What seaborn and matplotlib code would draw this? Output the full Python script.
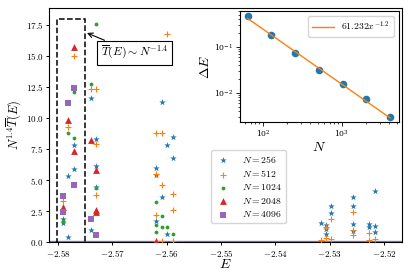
import matplotlib

matplotlib.use("Agg")
import matplotlib.pyplot as plt
import numpy as np
import pandas as pd
import seaborn as sns
from matplotlib.patches import Rectangle
from matplotlib.ticker import FuncFormatter

plt.rcParams["mathtext.fontset"] = "cm"
plt.rcParams["font.family"] = ["DejaVu Serif"]

# main panel: N^1.4 * T(E) at the peaks, one pair of lists per system size
E_256 = [-2.5791, -2.5791, -2.5781, -2.5781, -2.5771, -2.5771, -2.5739, -2.5739,
         -2.5730, -2.5730, -2.5730, -2.5620, -2.5620, -2.5620, -2.5609, -2.5609,
         -2.5600, -2.5600, -2.5588, -2.5588, -2.5316, -2.5306, -2.5306, -2.5306,
         -2.5297, -2.5297, -2.5257, -2.5257, -2.5257, -2.5257, -2.5227, -2.5227,
         -2.5216, -2.5216, -2.5216]
T_256 = [1.85, 1.5, 5.3, 0.4, 7.8, 5.9, 11.6, 0.95, 8.3, 6.1, 4.4, 6.0, 5.4, 1.7,
         11.3, 3.6, 7.85, 0.65, 8.45, 6.8, 1.5, 1.35, 1.05, 0.65, 2.9, 2.35,
         3.6, 2.9, 1.45, 0.9, 1.45, 1.2, 4.15, 1.3, 0.85]

E_512 = [-2.5791, -2.5781, -2.5771, -2.5739, -2.5730, -2.5730, -2.5730, -2.5620,
         -2.5609, -2.5600, -2.5620, -2.5609, -2.5588, -2.5588, -2.5620, -2.5620,
         -2.5609, -2.5588, -2.5316, -2.5306, -2.5306, -2.5297, -2.5297, -2.5257,
         -2.5257, -2.5257, -2.5227, -2.5227, -2.5216]
T_512 = [3.3, 9.3, 15.0, 12.35, 12.35, 7.9, 3.8, 8.8, 8.8, 16.8, 5.5, 4.6, 3.85,
         2.6, 2.2, 0.1, 0.1, 0.1, 0.2, 1.2, 0.3, 1.85, 0.25, 2.4, 0.95, 0.55,
         0.7, 0.2, 0.25]

E_1024 = [-2.5791, -2.5781, -2.5771, -2.5771, -2.5739, -2.5730, -2.5730, -2.5620,
          -2.5609, -2.5620, -2.5609, -2.5600, -2.5620, -2.5588]
T_1024 = [1.7, 8.8, 12.1, 8.4, 12.7, 17.55, 4.35, 3.2, 2.1, 1.4, 1.2, 1.25, 0.85,
          0.65]

E_2048 = [-2.5791, -2.5781, -2.5771, -2.5771, -2.5739, -2.5730, -2.5730, -2.5730,
          -2.5620]
T_2048 = [2.8, 9.8, 15.7, 7.3, 8.2, 5.8, 2.6, 2.4, 0.1]

E_4096 = [-2.5791, -2.5791, -2.5781, -2.5771, -2.5771, -2.5739, -2.5730]
T_4096 = [3.7, 2.4, 11.2, 12.4, 4.6, 1.85, 0.55]

# inset: gap Delta E against N
N_gap = [64, 128, 256, 512, 1024, 2048, 4096]
dE_gap = [0.47, 0.18, 0.074, 0.032, 0.0155, 0.0073, 0.0030]
fit_a, fit_b = 61.232, -1.2

series = [
    ("256", E_256, T_256, "C0", "*", 24),
    ("512", E_512, T_512, "C1", "+", 20),
    ("1024", E_1024, T_1024, "C2", ".", 30),
    ("2048", E_2048, T_2048, "C3", "^", 24),
    ("4096", E_4096, T_4096, "C4", "s", 22),
]

fig = plt.figure(figsize=(4.15, 2.72), dpi=100)
ax = fig.add_axes([0.118, 0.110, 0.851, 0.861])

ax.axhline(0, color="C4", lw=2.4, zorder=1)
for n, e, t, col, mk, sz in series:
    df = pd.DataFrame({"E": e, "T": t})
    kw = {"linewidth": 0.8} if mk == "+" else {"linewidth": 0}
    sns.scatterplot(data=df, x="E", y="T", color=col, marker=mk, s=sz,
                    label=rf"$N = {n}$", ax=ax, zorder=3, **kw)

ax.add_patch(Rectangle((-2.5802, -1), 0.0052, 19.0, fill=False, ec="black",
                       ls="--", lw=1.1, zorder=4))
ax.annotate(r"$\overline{T}(E) \sim N^{-1.4}$", xy=(-2.57466, 16.85),
            xytext=(-2.56591, 15.25), ha="center", va="center", fontsize=8.5,
            bbox=dict(boxstyle="square,pad=0.3", fc="white", ec="black", lw=0.8),
            arrowprops=dict(arrowstyle="->", color="black", lw=0.8,
                            shrinkA=0, shrinkB=0), zorder=5)

ax.set_xlim(-2.58166, -2.51666)
ax.set_ylim(0, 18.87)
ax.set_xticks([-2.58, -2.57, -2.56, -2.55, -2.54, -2.53, -2.52])
ax.set_yticks([0, 2.5, 5, 7.5, 10, 12.5, 15, 17.5])
ax.xaxis.set_major_formatter(FuncFormatter(lambda v, p: rf"${v:.2f}$"))
ax.yaxis.set_major_formatter(FuncFormatter(lambda v, p: rf"${v:.1f}$"))
ax.tick_params(labelsize=6.5, length=2.5, width=0.7, pad=1.5)
ax.set_xlabel(r"$E$", fontsize=10, labelpad=-1)
ax.set_ylabel(r"$N^{1.4}\overline{T}(E)$", fontsize=9, labelpad=2)
ax.legend(loc="lower left", bbox_to_anchor=(0.445, 0.06), fontsize=7,
          handletextpad=1.2, borderpad=0.4, labelspacing=0.35,
          handlelength=1.6, framealpha=0.8)

ins = fig.add_axes([0.578, 0.551, 0.383, 0.408])
gap = pd.DataFrame({"N": N_gap, "dE": dE_gap})
gap["fit"] = fit_a * gap["N"].astype(float) ** fit_b
sns.scatterplot(data=gap, x="N", y="dE", color="C0", s=30, linewidth=0,
                ax=ins, zorder=2)
sns.lineplot(data=gap, x="N", y="fit", color="C1", lw=1.0, ax=ins,
             label=rf"${fit_a}x^{{{fit_b}}}$", zorder=3)
ins.set_xscale("log")
ins.set_yscale("log")
ins.set_xlim(51, 5270)
ins.set_ylim(0.0023, 0.6)
ins.tick_params(which="major", labelsize=5.5, length=3, width=0.6, pad=2)
ins.tick_params(which="minor", length=1.5, width=0.5)
ins.set_xlabel(r"$N$", fontsize=10, labelpad=0)
ins.set_ylabel(r"$\Delta E$", fontsize=10, labelpad=1)
ins.legend(loc="upper right", fontsize=7, handlelength=2.2, borderpad=0.4)

fig.savefig("out.png", dpi=100)
